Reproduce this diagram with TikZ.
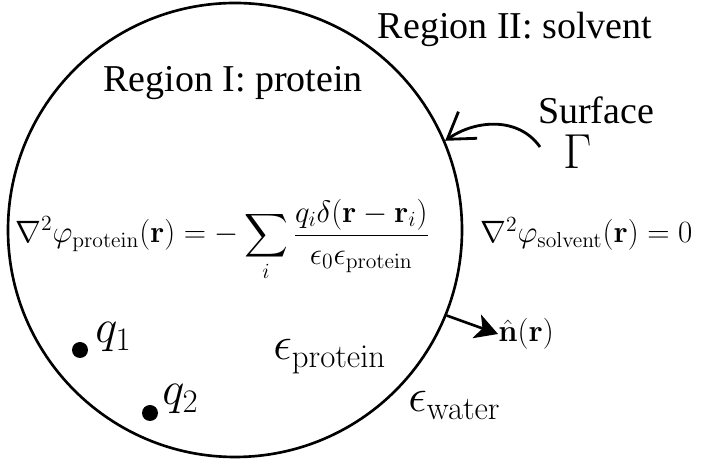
\documentclass[tikz,border=0pt]{standalone}
\usepackage{fix-cm}
\usepackage{exscale}
\usepackage[no-math]{fontspec}
\usepackage{tikz}
\usetikzlibrary{arrows.meta, positioning}

\newfontfamily\regionfont{Liberation Serif}

\begin{document}
\begin{tikzpicture}[
    region/.style={font=\regionfont\fontsize{21.6}{26}\selectfont, inner sep=0pt},
    eqn/.style={font=\fontsize{17.6}{21}\selectfont, inner sep=0pt},
    sym/.style={font=\fontsize{26.7}{32}\selectfont, inner sep=0pt},
    charge/.style={circle, fill=black, inner sep=0pt, minimum size=0.32cm},
    surfarr/.style={
        -{Straight Barb[length=0.5cm,width=0.65cm,line width=1.6pt]},
        line width=1.6pt
    },
    normarr/.style={
        -{Stealth[length=0.45cm,width=0.5cm,inset=0.12cm]},
        line width=1.5pt
    },
]
\useasboundingbox (0,0) rectangle (14.08,9.18);

% protein / solvent boundary
\node[circle, draw, line width=1.5pt, minimum size=9.08cm, inner sep=0pt] (protein) at (4.70,4.58) {};

% region labels
\node[region, anchor=base] (reg1) at (4.66,7.34) {Region I: protein};
\node[region, anchor=base] (reg2) at (10.30,8.40) {Region II: solvent};
\node[region, anchor=base] (surf) at (11.92,6.70) {Surface};
\node[font=\fontsize{28}{34}\selectfont, inner sep=0pt, anchor=base] (gamma) at (11.56,5.80) {$\Gamma$};

% Poisson equations
\node[eqn, anchor=base west] (eqin) at (0.30,4.32)
    {$\displaystyle \nabla^2\varphi_{\mathrm{protein}}(\mathbf{r}) = -\sum_i \frac{q_i\delta(\mathbf{r}-\mathbf{r}_i)}{\epsilon_0\epsilon_{\mathrm{protein}}}$};
\node[eqn, anchor=base west] (eqout) at (9.60,4.32)
    {$\nabla^2\varphi_{\mathrm{solvent}}(\mathbf{r}) = 0$};

% charges
\node[charge] (q1dot) at (1.60,2.18) {};
\node[charge] (q2dot) at (3.00,0.92) {};
\node[sym, anchor=base west] (q1) at (1.90,2.32) {$q_1$};
\node[sym, anchor=base west] (q2) at (3.24,1.08) {$q_2$};

% dielectrics
\node[sym, anchor=base west] (epsp) at (5.46,1.98) {$\epsilon_{\mathrm{protein}}$};
\node[sym, anchor=base west] (epsw) at (8.16,0.94) {$\epsilon_{\mathrm{water}}$};

% normal vector
\node[eqn, anchor=west] (nvec) at (9.96,2.50) {$\hat{\mathbf{n}}(\mathbf{r})$};
\draw[normarr] (protein.-22) -- (nvec.west);

% surface pointer
\coordinate (surfstart) at (10.80,6.24);
\draw[surfarr] (surfstart) to[out=125, in=35] (protein.23);

\end{tikzpicture}
\end{document}
